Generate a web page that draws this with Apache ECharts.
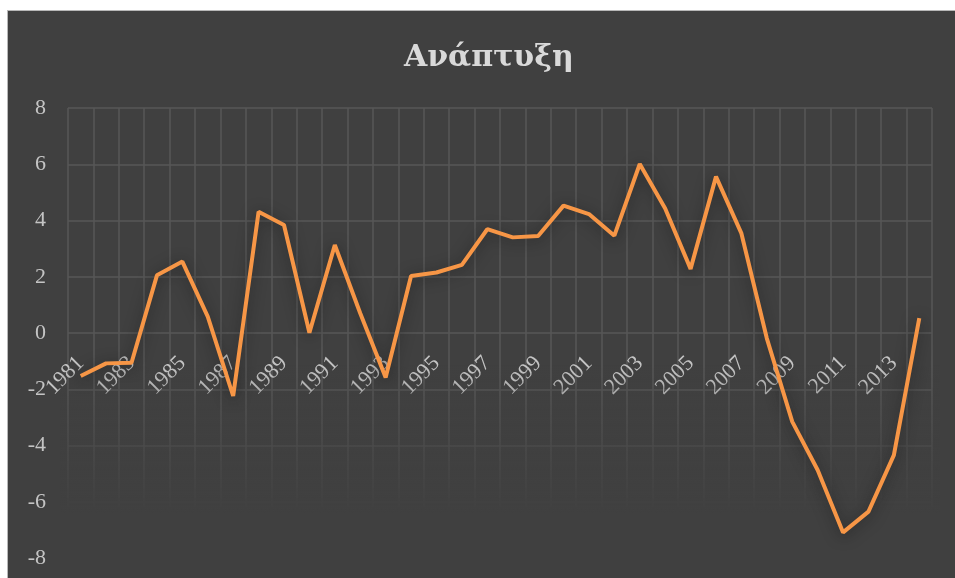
<!DOCTYPE html>
<html>
<head>
<meta charset="utf-8">
<script src="https://cdn.jsdelivr.net/npm/echarts@6/dist/echarts.min.js"></script>
<style>
  html, body { margin: 0; padding: 0; background: #ffffff; }
  #wrap { position: relative; width: 955px; height: 578px; overflow: hidden; }
  #bg { position: absolute; left: 7px; top: 10px; width: 960px; height: 580px; background: #404040; border: 1px solid #b8b8b8; }
  #chart { position: absolute; left: 0; top: 0; width: 955px; height: 578px; }
</style>
</head>
<body>
<div id="wrap">
  <div id="bg"></div>
  <div id="chart"></div>
</div>
<script>
const titleText = 'Ανάπτυξη';
const years = ['1981','1982','1983','1984','1985','1986','1987','1988','1989','1990',
  '1991','1992','1993','1994','1995','1996','1997','1998','1999','2000',
  '2001','2002','2003','2004','2005','2006','2007','2008','2009','2010',
  '2011','2012','2013','2014'];
const growth = [-1.53, -1.08, -1.06, 2.05, 2.54, 0.58, -2.24, 4.31, 3.84, 0.01,
  3.13, 0.70, -1.58, 2.03, 2.15, 2.42, 3.69, 3.40, 3.45, 4.53,
  4.23, 3.46, 6.01, 4.43, 2.28, 5.56, 3.54, -0.19, -3.15, -4.87,
  -7.09, -6.35, -4.34, 0.53];
const yTicks = { min: -8, max: 8, interval: 2 };

const chart = echarts.init(document.getElementById('chart'), null, { renderer: 'canvas' });
const labelFont = '"Liberation Serif", "DejaVu Serif", serif';
chart.setOption({
  backgroundColor: 'transparent',
  animation: false,
  title: {
    text: titleText,
    left: 399,
    top: 38,
    textStyle: { color: '#d9d9d9', fontFamily: '"DejaVu Serif", serif', fontWeight: 'bold', fontSize: 30 }
  },
  grid: { left: 68, right: 23, top: 108, bottom: 20, containLabel: false, outerBoundsMode: 'none' },
  xAxis: {
    type: 'category',
    data: years,
    boundaryGap: true,
    offset: -225,
    axisLine: { show: false, onZero: false },
    axisTick: { show: false },
    splitLine: { show: true, interval: 0, lineStyle: { color: '#575757', width: 1.5 } },
    axisLabel: {
      interval: 1,
      rotate: 45,
      margin: 27,
      color: '#c4c4c4',
      fontFamily: labelFont,
      fontSize: 22
    }
  },
  yAxis: {
    type: 'value',
    min: yTicks.min,
    max: yTicks.max,
    interval: yTicks.interval,
    axisLine: { show: false },
    axisTick: { show: false },
    splitLine: { show: true, lineStyle: { color: '#575757', width: 1.5 } },
    axisLabel: { margin: 22, color: '#c4c4c4', fontFamily: labelFont, fontSize: 22 }
  },
  graphic: [{
    type: 'rect',
    z: 1,
    silent: true,
    shape: { x: 60, y: 365, width: 880, height: 205 },
    style: {
      fill: {
        type: 'linear', x: 0, y: 0, x2: 0, y2: 1,
        colorStops: [
          { offset: 0, color: 'rgba(64,64,64,0)' },
          { offset: 0.72, color: 'rgba(64,64,64,1)' },
          { offset: 1, color: 'rgba(64,64,64,1)' }
        ]
      }
    }
  }],
  series: [{
    type: 'line',
    data: growth,
    z: 5,
    showSymbol: false,
    symbol: 'none',
    lineStyle: {
      color: '#f79646',
      width: 4,
      shadowBlur: 14,
      shadowColor: 'rgba(20,20,20,0.6)',
      shadowOffsetY: 2
    },
    itemStyle: { color: '#f79646' }
  }]
});
</script>
</body>
</html>
